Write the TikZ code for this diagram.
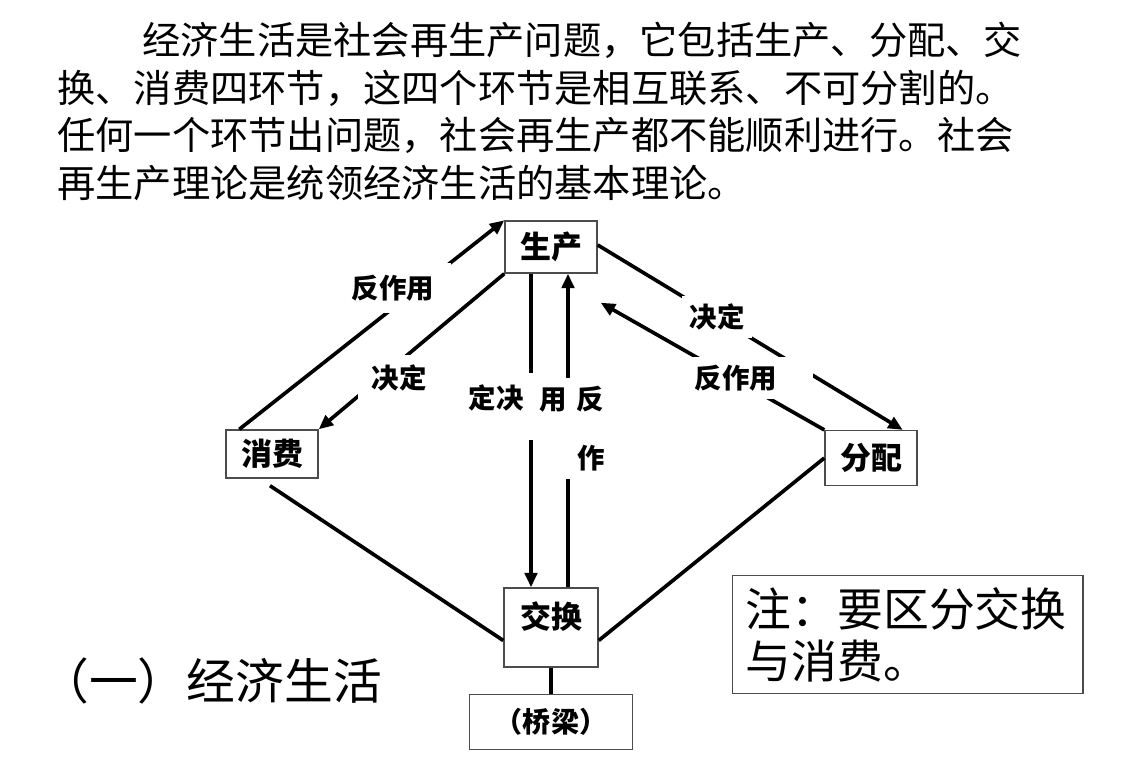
\documentclass[tikz,border=0pt]{standalone}
\usepackage{fontspec}
\setmainfont{Noto Sans CJK SC}
\usetikzlibrary{arrows.meta,positioning,calc}

\begin{document}
\begin{tikzpicture}[x=0.025cm, y=-0.025cm,
  box/.style={draw=gray!60!black, line width=1pt, minimum width=2.3cm,
              minimum height=1.3cm, inner sep=0pt,
              font=\fontsize{22}{26}\selectfont\bfseries},
  lbl/.style={fill=white, inner sep=0.2cm,
              font=\fontsize{19.5}{23}\selectfont\bfseries},
  ar/.style={-{Triangle[length=3.6mm, width=3.1mm]}, line width=2.6pt},
  ln/.style={line width=2.6pt},
  txt/.style={anchor=base west, inner sep=0pt,
              font=\fontsize{27.2}{34}\selectfont},
  node distance=0.65cm
]
  \useasboundingbox (0,0) rectangle (1138,759);

  \node[txt] (p1) at (142,54.6) {经济生活是社会再生产问题，它包括生产、分配、交};
  \node[txt] (p2) at (57,102.6) {换、消费四环节，这四个环节是相互联系、不可分割的。};
  \node[txt] (p3) at (57,149.6) {任何一个环节出问题，社会再生产都不能顺利进行。社会};
  \node[txt] (p4) at (57,197.6) {再生产理论是统领经济生活的基本理论。};

  \node[box] (sc) at (551,247) {生产};
  \node[box, minimum height=1.2cm] (xf) at (272,454) {消费};
  \node[box, minimum height=1.37cm] (fp) at (871,458) {分配};
  \node[box, minimum width=2.35cm, text height=1.02cm, text depth=0.955cm]
    (jh) at (551,627.5) {交换};
  \node[box, minimum width=4.08cm, minimum height=1.38cm,
        font=\fontsize{20}{24}\selectfont\bfseries, below=0.65cm of jh] (ql) {（桥梁）};

  \node[anchor=base west, inner sep=0pt, font=\fontsize{34.7}{40}\selectfont]
    (title) at (40,699) {（一）经济生活};
  \node[draw=gray!60!black, line width=1pt, anchor=north west, align=left,
        text width=8.1cm, minimum height=2.95cm, inner xsep=0.325cm,
        font=\fontsize{32.6}{36.9}\selectfont] (note) at (732,575)
    {注：要区分交换\\与消费。};

  \draw[ar] ($(xf.north west)+(14,0)$) -- (sc.north west);
  \draw[ar] (sc.south west) -- (xf.north east);
  \draw[ar] ([xshift=-0.5cm]sc.south) -- ([xshift=-0.5cm]jh.north);
  \draw[ar] ([xshift=0.425cm]jh.north) -- ([xshift=0.425cm]sc.south);
  \draw[ar] ([yshift=0.05cm]sc.east) -- ([xshift=-0.375cm]fp.north east);
  \draw[ar] (fp.north west) -- ($(sc.south east)+(3,29)$);
  \draw[ln] ($(xf.south)+(-2,7)$) -- ($(jh.west)+(0,13)$);
  \draw[ln] (fp.west) -- ($(jh.east)+(0,13)$);
  \draw[ln] (jh) -- (ql);

  \node[lbl, inner xsep=0.425cm, inner ysep=0.3cm] (l1) at (393,288) {反作用};
  \node[lbl, inner xsep=0.35cm, inner ysep=0.25cm] (l2) at (399,378) {决定};
  \node[lbl, inner xsep=0.25cm, inner ysep=0pt, text height=0.88cm,
        text depth=0.79cm] (l3) at (496,406.5) {定决};
  \node[lbl, inner xsep=0.1cm, inner ysep=0.19cm, align=left,
        font=\fontsize{19.5}{41.9}\selectfont\bfseries] (l4) at (572,428.5)
    {用\hspace{0.25cm}反\\\hphantom{用}\hspace{0.25cm}作};
  \node[lbl] (l5) at (717,317) {决定};
  \node[lbl, inner xsep=0.9cm] (l6) at (736,378) {反作用};
\end{tikzpicture}
\end{document}
